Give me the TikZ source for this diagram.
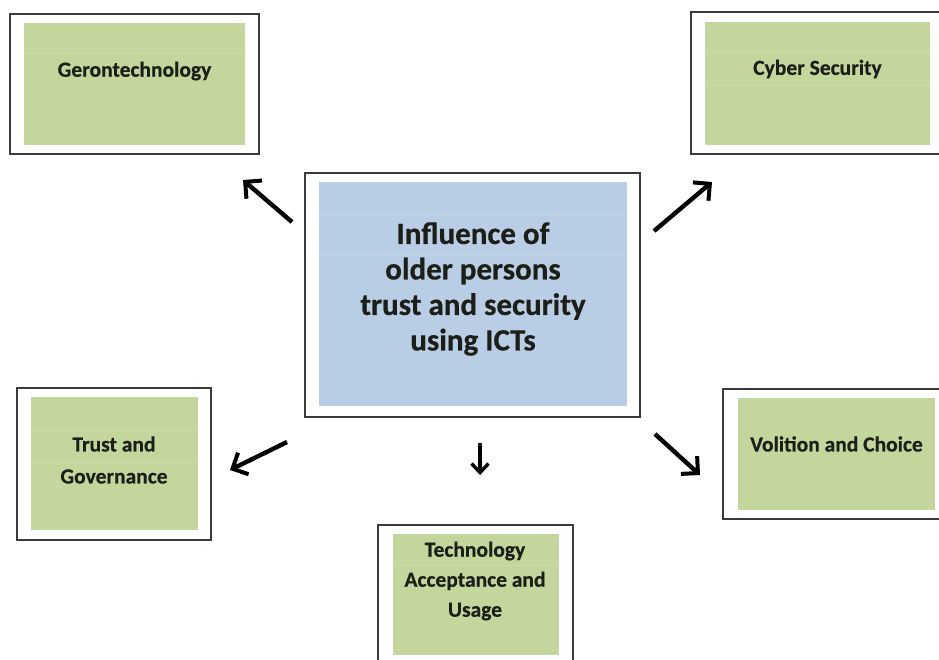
\documentclass[tikz,border=0pt]{standalone}
\usepackage{fontspec}
\setmainfont{Carlito}[BoldFeatures={FakeBold=0.5}]
\usetikzlibrary{arrows.meta}
\definecolor{leaf}{HTML}{C3D69B}
\definecolor{leafline}{HTML}{CBDCA8}
\definecolor{sky}{HTML}{B9CDE5}
\definecolor{skyline}{HTML}{C3D4E9}
\definecolor{frame}{HTML}{3A3A3A}
\definecolor{ink}{HTML}{1C1F18}
\begin{document}
\begin{tikzpicture}[x=1pt,y=-1pt,
  outerbox/.style={draw=frame,line width=1.5pt,fill=white,inner sep=0pt,rectangle},
  greenbox/.style={fill=leaf,inner sep=0pt,rectangle},
  bluebox/.style={fill=sky,inner sep=0pt,rectangle},
  smalltext/.style={text=ink,align=center,font=\bfseries\fontsize{21.5}{30}\selectfont,inner sep=0pt},
  bigtext/.style={text=ink,align=center,font=\bfseries\fontsize{31}{35.5}\selectfont,inner sep=0pt},
  rowline/.style={line width=0.8pt},
  arr/.style={line width=4.4pt,-{Straight Barb[length=12pt,width=24pt,line width=4pt]}},
  smallarr/.style={line width=3.6pt,-{Straight Barb[length=9pt,width=17pt,line width=3.4pt]}}]
\useasboundingbox (0,0) rectangle (939,659);
\clip (0,0) rectangle (939,659);
\fill[white] (0,0) rectangle (939,659);

% Gerontechnology
\node[outerbox,minimum width=249,minimum height=140] (geron) at (134.5,84) {};
\node[greenbox,minimum width=221,minimum height=122] (geronin) at (134.5,84) {};
\draw[leafline,rowline] (geronin.west |- 0,53) -- (geronin.east |- 0,53);
\node[smalltext] (gerontext) at (134.5,71) {Gerontechnology};

% Cyber Security
\node[outerbox,minimum width=255,minimum height=142] (cyber) at (818.5,83) {};
\node[greenbox,minimum width=225,minimum height=123] (cyberin) at (817.5,83.5) {};
\draw[leafline,rowline] (cyberin.west |- 0,52) -- (cyberin.east |- 0,52);
\draw[leafline,rowline] (cyberin.west |- 0,85) -- (cyberin.east |- 0,85);
\node[smalltext] (cybertext) at (817.5,69) {Cyber Security};

% Central topic
\node[outerbox,minimum width=335,minimum height=244] (core) at (472.5,295) {};
\node[bluebox,minimum width=308,minimum height=224] (corein) at (473,294) {};
\draw[skyline,rowline] (corein.west |- 0,214) -- (corein.east |- 0,214);
\draw[skyline,rowline] (corein.west |- 0,254) -- (corein.east |- 0,254);
\node[bigtext] (coretext) at (473,289) {Influence of\\older persons\\trust and security\\using ICTs};

% Trust and Governance
\node[outerbox,minimum width=194,minimum height=152] (trust) at (114,464) {};
\node[greenbox,minimum width=167,minimum height=133] (trustin) at (114.5,463.5) {};
\draw[leafline,rowline] (trustin.west |- 0,430) -- (trustin.east |- 0,430);
\draw[leafline,rowline] (trustin.west |- 0,462) -- (trustin.east |- 0,462);
\node[smalltext,font=\bfseries\fontsize{21.5}{32}\selectfont] (trusttext) at (114,460) {Trust and\\Governance};

% Volition and Choice
\node[outerbox,minimum width=227,minimum height=130] (volition) at (836.5,454) {};
\node[greenbox,minimum width=197,minimum height=112] (volitionin) at (836.5,454) {};
\node[smalltext] (volitiontext) at (836.5,444) {Volition and Choice};

% Technology Acceptance and Usage
\node[outerbox,minimum width=195,minimum height=145] (tech) at (475.5,597.5) {};
\node[greenbox,minimum width=166,minimum height=121] (techin) at (476,594.5) {};
\draw[leafline,rowline] (techin.west |- 0,565) -- (techin.east |- 0,565);
\node[smalltext] (techtext) at (475,581) {Technology\\Acceptance and\\Usage};

% Arrow end points around the central topic
\coordinate (tlA) at (292,222);  \coordinate (tlB) at (243,180);
\coordinate (trA) at (654,231);  \coordinate (trB) at (712,182);
\coordinate (blA) at (287,442);  \coordinate (blB) at (230,470);
\coordinate (dnA) at (480,443);  \coordinate (dnB) at (480,475);
\coordinate (brA) at (655,434);  \coordinate (brB) at (700,475);

\draw[arr] (tlA) -- (tlB);
\draw[arr] (trA) -- (trB);
\draw[arr] (blA) -- (blB);
\draw[smallarr] (dnA) -- (dnB);
\draw[arr] (brA) -- (brB);
\end{tikzpicture}
\end{document}
